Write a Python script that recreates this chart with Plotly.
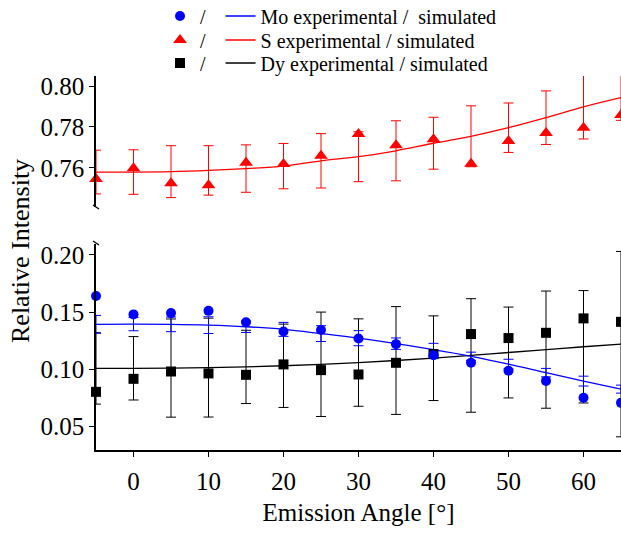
import plotly.graph_objects as go

# Emission angles (degrees)
angles = [-5, 0, 5, 10, 15, 20, 25, 30, 35, 40, 45, 50, 55, 60, 65]

# S: measured intensity, simulated intensity, half-width of uncertainty band
s_exp = [0.7545, 0.7597, 0.7524, 0.7514, 0.7625, 0.7618, 0.7659, 0.7765,
         0.7710, 0.7739, 0.7620, 0.7731, 0.7770, 0.7796, 0.7858]
s_sim = [0.7579, 0.7579, 0.7581, 0.7587, 0.7596, 0.7608, 0.7634, 0.7654,
         0.7683, 0.7720, 0.7754, 0.7796, 0.7845, 0.7898, 0.7943]
s_err = [0.0107, 0.0109, 0.0127, 0.0121, 0.0116, 0.0111, 0.0133, 0.0122,
         0.0147, 0.0127, 0.0149, 0.0121, 0.0131, 0.0157, 0.0111]

# Mo
mo_exp = [0.1641, 0.1481, 0.1492, 0.1512, 0.1413, 0.1332, 0.1344, 0.1271,
          0.1221, 0.1125, 0.1058, 0.0988, 0.0900, 0.0752, 0.0708]
mo_sim = [0.1394, 0.1396, 0.1394, 0.1387, 0.1373, 0.1350, 0.1313, 0.1273,
          0.1225, 0.1173, 0.1115, 0.1047, 0.0972, 0.0898, 0.0828]
mo_err = [0.0078, 0.0058, 0.0064, 0.0073, 0.0050, 0.0061, 0.0069, 0.0066,
          0.0050, 0.0055, 0.0036, 0.0042, 0.0037, 0.0043, 0.0035]

# Dy
dy_exp = [0.0804, 0.0918, 0.0982, 0.0965, 0.0953, 0.1044, 0.0994, 0.0956,
          0.1058, 0.1134, 0.1309, 0.1274, 0.1320, 0.1446, 0.1416]
dy_sim = [0.1009, 0.1010, 0.1012, 0.1016, 0.1022, 0.1032, 0.1045, 0.1060,
          0.1078, 0.1098, 0.1122, 0.1148, 0.1173, 0.1198, 0.1221]
dy_err = [0.0312, 0.0277, 0.0429, 0.0432, 0.0320, 0.0364, 0.0456, 0.0382,
          0.0471, 0.0370, 0.0496, 0.0397, 0.0512, 0.0491, 0.0810]

x_ticks = [0, 10, 20, 30, 40, 50, 60]
y_ticks_top = [0.76, 0.78, 0.80]
y_ticks_bottom = [0.05, 0.10, 0.15, 0.20]

labels = {
    "Mo": "Mo experimental /  simulated",
    "S": "S experimental / simulated",
    "Dy": "Dy experimental / simulated",
}

FONT = "Times New Roman"
BLUE, RED, BLACK = "#0000ff", "#ff0000", "#000000"

fig = go.Figure()

# (element, exp, sim, err, colour, marker symbol, size, axes, legend)
series = [
    ("Dy", dy_exp, dy_sim, dy_err, BLACK, "square", 10, ("x", "y2"), "legend3"),
    ("Mo", mo_exp, mo_sim, mo_err, BLUE, "circle", 10, ("x", "y2"), "legend"),
    ("S", s_exp, s_sim, s_err, RED, "triangle-up", 12, ("x2", "y"), "legend2"),
]

# uncertainty bars around the simulated curves
for name, exp, sim, err, col, sym, size, (xa, ya), lg in series:
    fig.add_trace(go.Scatter(
        x=angles, y=sim, mode="markers", xaxis=xa, yaxis=ya,
        marker=dict(size=1, opacity=0), showlegend=False, hoverinfo="skip",
        cliponaxis=False,
        error_y=dict(type="data", array=err, symmetric=True,
                     color=col, thickness=1, width=5),
    ))

# simulated curves
for name, exp, sim, err, col, sym, size, (xa, ya), lg in series:
    fig.add_trace(go.Scatter(
        x=angles, y=sim, mode="lines", xaxis=xa, yaxis=ya,
        line=dict(color=col, width=1.3, shape="spline"),
        name=labels[name], legend=lg, legendrank=2,
    ))

# experimental points
for name, exp, sim, err, col, sym, size, (xa, ya), lg in series:
    fig.add_trace(go.Scatter(
        x=angles, y=exp, mode="markers", xaxis=xa, yaxis=ya,
        marker=dict(color=col, symbol=sym, size=size, line=dict(width=0)),
        name="/\u00a0\u00a0", legend=lg, legendrank=1, cliponaxis=False,
    ))

W, H = 621, 534
L, R, T, B = 96, 0, 76, 84
pw, ph = W - L - R, H - T - B


def py(px):
    """pixel row -> paper y"""
    return (H - B - px) / ph


def px_(x):
    """pixel column -> paper x"""
    return (x - L) / pw


top_dom = [py(207), 1.0]
bot_dom = [0.0, py(244)]
x_range = [-5, 65]
yr_top = [0.7408, 0.8049]
yr_bot = [0.0296, 0.2096]

tickfont = dict(family=FONT, size=25, color="black")
axis_common = dict(showgrid=False, zeroline=False, tickcolor="black",
                   tickwidth=1.3)
spine = dict(linecolor="black", linewidth=1.5, showline=True)

legend_common = dict(orientation="h", xanchor="left", yanchor="middle",
                     bgcolor="rgba(0,0,0,0)", borderwidth=0,
                     font=dict(family=FONT, size=20, color="black"),
                     itemclick=False, itemdoubleclick=False)

fig.update_layout(
    template="none",
    width=W, height=H,
    margin=dict(l=L, r=R, t=T, b=B, autoexpand=False),
    plot_bgcolor="white", paper_bgcolor="white",
    font=dict(family=FONT, color="black", size=25),
    xaxis=dict(domain=[0, 1], anchor="y2", range=x_range, tickmode="array",
               tickvals=x_ticks, ticks="outside", ticklen=5,
               tickfont=tickfont, ticklabelstandoff=3,
               title=dict(text="Emission Angle [°]",
                          font=dict(size=25, family=FONT, color="black"),
                          standoff=10),
               **spine, **axis_common),
    xaxis2=dict(domain=[0, 1], anchor="y", range=x_range, matches="x",
                visible=False),
    xaxis3=dict(overlaying="x", anchor="y2", range=x_range, tickmode="array",
                tickvals=x_ticks, ticks="inside", ticklen=5,
                showticklabels=False, showline=False, **axis_common),
    yaxis=dict(domain=top_dom, anchor="x2", range=yr_top, tickmode="array",
               tickvals=y_ticks_top, tickformat=".2f", ticks="outside",
               ticklen=5, tickfont=tickfont, ticklabelstandoff=0,
               **spine, **axis_common),
    yaxis2=dict(domain=bot_dom, anchor="x", range=yr_bot, tickmode="array",
                tickvals=y_ticks_bottom, tickformat=".2f", ticks="outside",
                ticklen=5, tickfont=tickfont, ticklabelstandoff=0,
                **spine, **axis_common),
    yaxis3=dict(overlaying="y", anchor="x2", range=yr_top, tickmode="array",
                tickvals=y_ticks_top, ticks="inside", ticklen=5,
                showticklabels=False, showline=False, **axis_common),
    yaxis4=dict(overlaying="y2", anchor="x", range=yr_bot, tickmode="array",
                tickvals=y_ticks_bottom, ticks="inside", ticklen=5,
                showticklabels=False, showline=False, **axis_common),
    legend=dict(x=px_(160), y=py(16), **legend_common),
    legend2=dict(x=px_(160), y=py(40), **legend_common),
    legend3=dict(x=px_(160), y=py(63), **legend_common),
    annotations=[dict(text="Relative Intensity", textangle=-90,
                      xref="paper", yref="paper", x=px_(20), y=py(251),
                      showarrow=False, xanchor="center", yanchor="middle",
                      font=dict(family=FONT, size=26, color="black"))],
    shapes=[
        # axis-break ticks on the left spine
        dict(type="line", xref="paper", yref="paper",
             x0=px_(93), y0=py(205), x1=px_(99), y1=py(209),
             line=dict(color="black", width=1.3)),
        dict(type="line", xref="paper", yref="paper",
             x0=px_(93), y0=py(241), x1=px_(99), y1=py(245),
             line=dict(color="black", width=1.3)),
    ],
)

fig.write_html("out.html")
